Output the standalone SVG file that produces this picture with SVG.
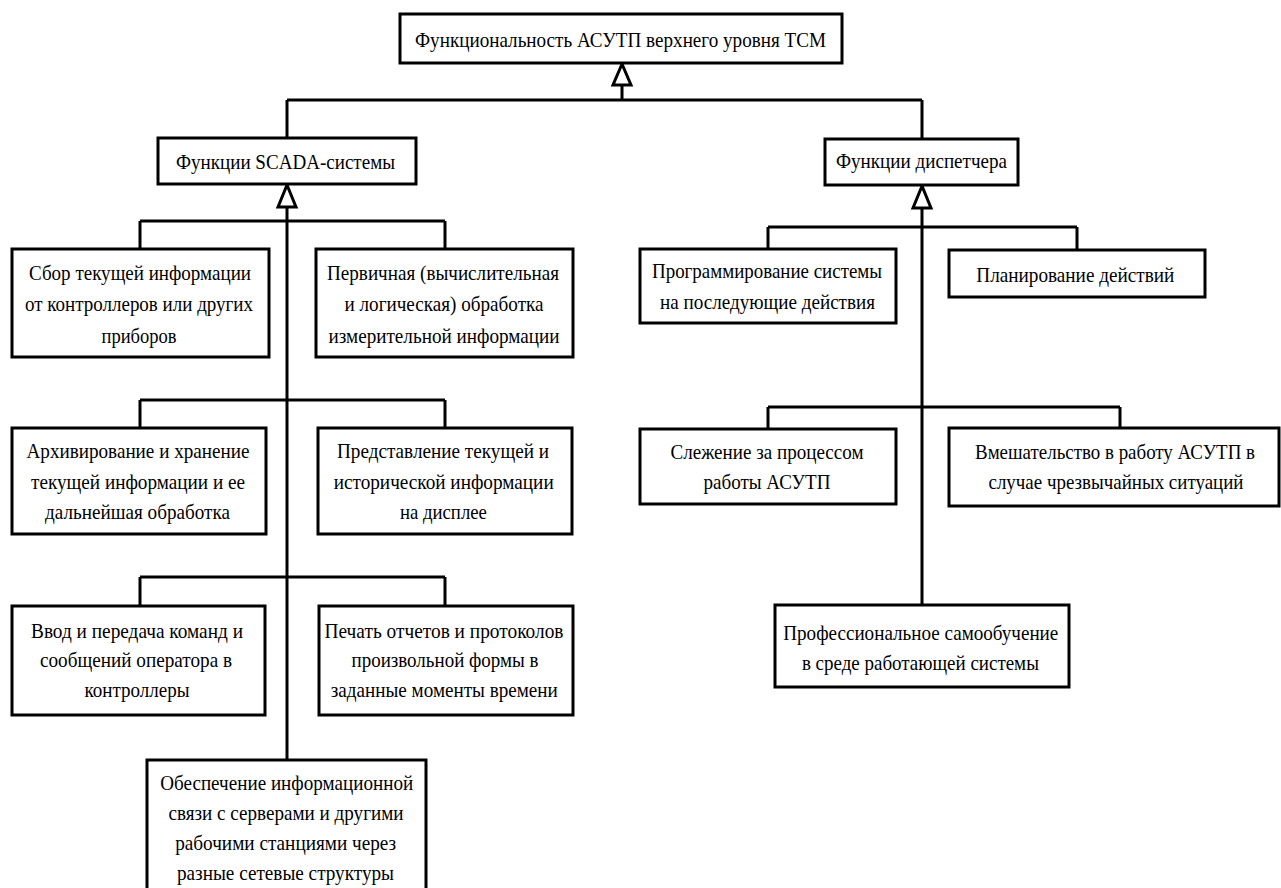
<svg xmlns="http://www.w3.org/2000/svg" width="1281" height="888" viewBox="0 0 1281 888">
<style>
.box{fill:#fff;stroke:#000;stroke-width:3}
.ln{fill:none;stroke:#000;stroke-width:3}
.tri{fill:#fff;stroke:#000;stroke-width:3;stroke-linejoin:miter}
text{font-family:"Liberation Serif","Times New Roman",serif;font-size:21px;fill:#000;text-anchor:middle}
</style>
<rect width="1281" height="888" fill="#fff"/>
<g id="connectors">
<path class="ln" d="M622 85V100M287 100H922M287 100V138M922 100V139"/>
<polygon class="tri" points="622,64 613,85 631,85"/>
<path class="ln" d="M287 207V760M140 221H445M140 221V249M445 221V249M140 400H445M140 400V428M445 400V428M140 577H445M140 577V606M445 577V606"/>
<polygon class="tri" points="287,185 278,207 296,207"/>
<path class="ln" d="M922 208V605M768 227H1077M768 227V249M1077 227V250M768 407H1120M768 407V429M1120 407V428"/>
<polygon class="tri" points="922,186 913,208 931,208"/>
</g>
<g id="root"><rect class="box" x="400" y="14" width="442" height="49"/>
<text x="620.5" y="47" textLength="411" lengthAdjust="spacingAndGlyphs">Функциональность АСУТП верхнего уровня ТСМ</text></g>
<g id="scada"><rect class="box" x="158" y="138" width="258" height="46"/>
<text x="285.5" y="169" textLength="219" lengthAdjust="spacingAndGlyphs">Функции SCADA-системы</text></g>
<g id="disp"><rect class="box" x="825" y="139" width="193" height="46"/>
<text x="921.5" y="168" textLength="171" lengthAdjust="spacingAndGlyphs">Функции диспетчера</text></g>
<g id="a1"><rect class="box" x="12" y="249" width="257" height="108"/>
<text x="140" y="280" textLength="222" lengthAdjust="spacingAndGlyphs">Сбор текущей информации</text>
<text x="139" y="311" textLength="228" lengthAdjust="spacingAndGlyphs">от контроллеров или других</text>
<text x="139" y="343" textLength="75" lengthAdjust="spacingAndGlyphs">приборов</text></g>
<g id="a2"><rect class="box" x="316" y="249" width="257" height="108"/>
<text x="443" y="280" textLength="232" lengthAdjust="spacingAndGlyphs">Первичная (вычислительная</text>
<text x="444" y="311" textLength="199" lengthAdjust="spacingAndGlyphs">и логическая) обработка</text>
<text x="444" y="343" textLength="231" lengthAdjust="spacingAndGlyphs">измерительной информации</text></g>
<g id="b1"><rect class="box" x="12" y="428" width="254" height="106"/>
<text x="138" y="458" textLength="223" lengthAdjust="spacingAndGlyphs">Архивирование и хранение</text>
<text x="138" y="489" textLength="214" lengthAdjust="spacingAndGlyphs">текущей информации и ее</text>
<text x="137.5" y="519" textLength="185" lengthAdjust="spacingAndGlyphs">дальнейшая обработка</text></g>
<g id="b2"><rect class="box" x="318" y="428" width="254" height="106"/>
<text x="443" y="458" textLength="212" lengthAdjust="spacingAndGlyphs">Представление текущей и</text>
<text x="443.7" y="489" textLength="220" lengthAdjust="spacingAndGlyphs">исторической информации</text>
<text x="443.4" y="519" textLength="87" lengthAdjust="spacingAndGlyphs">на дисплее</text></g>
<g id="c1"><rect class="box" x="12" y="606" width="253" height="109"/>
<text x="137" y="638" textLength="212" lengthAdjust="spacingAndGlyphs">Ввод и передача команд и</text>
<text x="136" y="667" textLength="192" lengthAdjust="spacingAndGlyphs">сообщений оператора в</text>
<text x="137" y="697" textLength="105" lengthAdjust="spacingAndGlyphs">контроллеры</text></g>
<g id="c2"><rect class="box" x="319" y="606" width="254" height="109"/>
<text x="444" y="638" textLength="239" lengthAdjust="spacingAndGlyphs">Печать отчетов и протоколов</text>
<text x="445" y="667" textLength="187" lengthAdjust="spacingAndGlyphs">произвольной формы в</text>
<text x="444.3" y="697" textLength="227" lengthAdjust="spacingAndGlyphs">заданные моменты времени</text></g>
<g id="d"><rect class="box" x="147" y="760" width="279" height="135"/>
<text x="286.7" y="790" textLength="253" lengthAdjust="spacingAndGlyphs">Обеспечение информационной</text>
<text x="286" y="820" textLength="235" lengthAdjust="spacingAndGlyphs">связи с серверами и другими</text>
<text x="285.7" y="850" textLength="221" lengthAdjust="spacingAndGlyphs">рабочими станциями через</text>
<text x="285.5" y="880" textLength="217" lengthAdjust="spacingAndGlyphs">разные сетевые структуры</text></g>
<g id="r1"><rect class="box" x="640" y="249" width="256" height="74"/>
<text x="767" y="278" textLength="230" lengthAdjust="spacingAndGlyphs">Программирование системы</text>
<text x="767.5" y="309" textLength="215" lengthAdjust="spacingAndGlyphs">на последующие действия</text></g>
<g id="r2"><rect class="box" x="949" y="250" width="256" height="47"/>
<text x="1075.3" y="282" textLength="198" lengthAdjust="spacingAndGlyphs">Планирование действий</text></g>
<g id="r3"><rect class="box" x="640" y="429" width="256" height="75"/>
<text x="767" y="459" textLength="193" lengthAdjust="spacingAndGlyphs">Слежение за процессом</text>
<text x="767" y="489" textLength="127" lengthAdjust="spacingAndGlyphs">работы АСУТП</text></g>
<g id="r4"><rect class="box" x="949" y="428" width="330" height="78"/>
<text x="1115" y="459" textLength="280" lengthAdjust="spacingAndGlyphs">Вмешательство в работу АСУТП в</text>
<text x="1116" y="489" textLength="255" lengthAdjust="spacingAndGlyphs">случае чрезвычайных ситуаций</text></g>
<g id="r5"><rect class="box" x="775" y="605" width="294" height="82"/>
<text x="920.8" y="640" textLength="275" lengthAdjust="spacingAndGlyphs">Профессиональное самообучение</text>
<text x="920.4" y="670" textLength="237" lengthAdjust="spacingAndGlyphs">в среде работающей системы</text></g>
</svg>
